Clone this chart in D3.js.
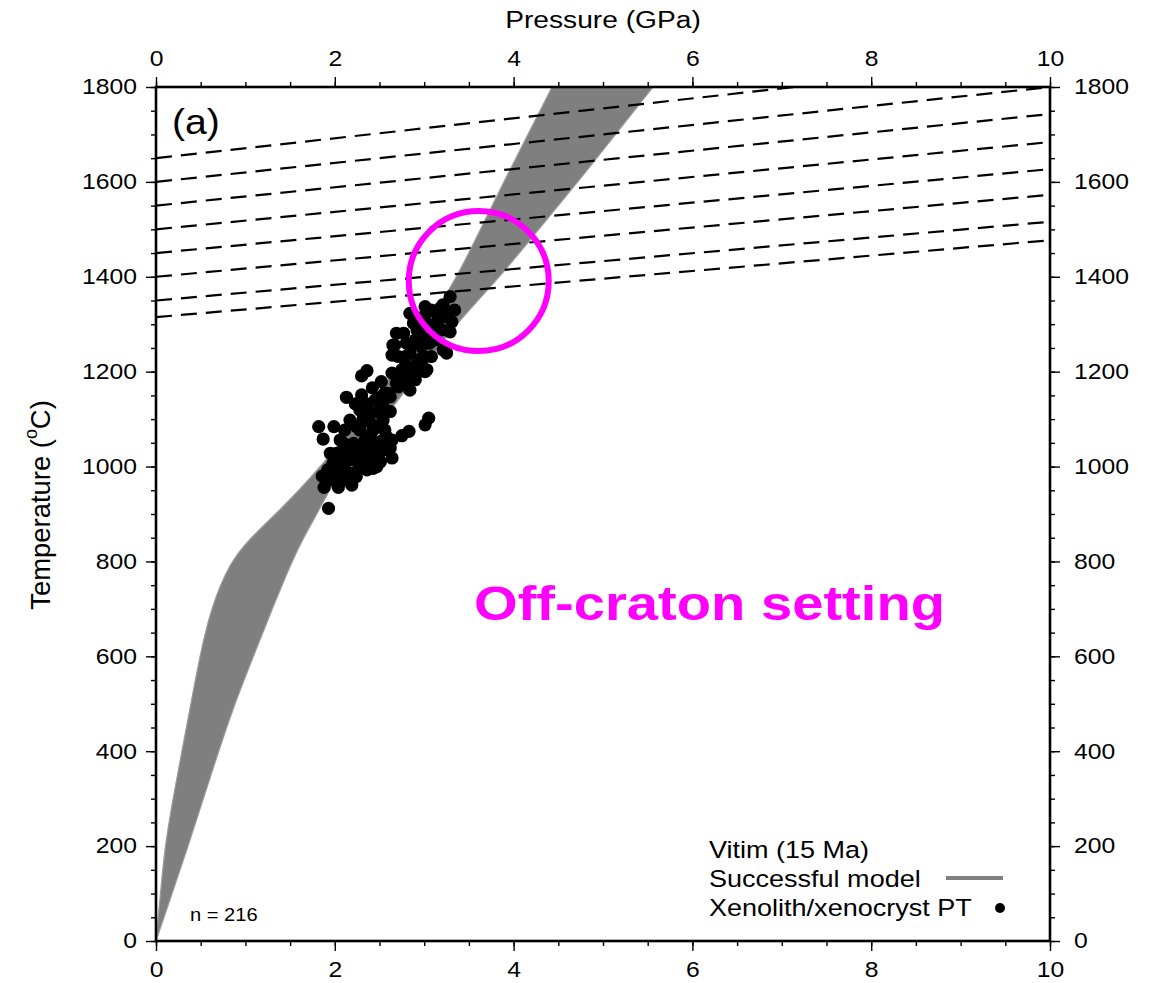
<!DOCTYPE html>
<html>
<head>
<meta charset="utf-8">
<script src="https://cdn.jsdelivr.net/npm/d3@7"></script>
<style>
  body { margin: 0; background: #fff; }
  text { font-family: "Liberation Sans", Arial, Helvetica, sans-serif; fill: #000; }
</style>
</head>
<body>
<svg id="chart" width="1152" height="983"></svg>
<script>
// axis ticks
const pressureTicks = [0, 2, 4, 6, 8, 10];
const pressureMinor = d3.range(0, 10.01, 0.5);
const tempTicks = [0, 200, 400, 600, 800, 1000, 1200, 1400, 1600, 1800];
const tempMinor = d3.range(0, 1801, 50);

// envelope of the successful model geotherms (T in C, P in GPa)
const bandT     = [0, 100, 200, 300, 400, 500, 600, 700, 800, 850, 900, 950, 1000, 1100, 1200, 1300, 1400, 1500, 1600, 1700, 1800];
const bandHotP  = [0, 0.05, 0.10, 0.19, 0.29, 0.39, 0.49, 0.61, 0.83, 1.06, 1.34, 1.60, 1.84, 2.28, 2.66, 3.04, 3.37, 3.63, 3.89, 4.16, 4.43];
const bandColdP = [0, 0.18, 0.36, 0.53, 0.70, 0.88, 1.09, 1.30, 1.52, 1.65, 1.80, 1.94, 2.10, 2.55, 2.95, 3.35, 3.85, 4.28, 4.72, 5.14, 5.56];

// dashed adiabats: temperature at P = 0 and P = 10 GPa
const adiabatT0  = [1650, 1600, 1550, 1500, 1450, 1400, 1350, 1315];
const adiabatT10 = [1860, 1800, 1743, 1684, 1627, 1573, 1516, 1477];

// xenolith / xenocryst PT estimates
const xenoP = [1.93, 1.86, 1.88, 2.04, 1.82, 1.99, 1.87, 2.13, 2.30, 2.36, 2.23, 2.36, 2.52, 2.56, 2.49, 2.62,
  2.75, 2.83, 3.01, 3.05, 2.80, 2.67, 2.84, 3.25, 3.29, 3.21, 3.14, 3.25, 3.29, 3.03, 2.92, 3.06, 2.99, 2.92,
  3.03, 2.75, 2.80, 2.69, 2.71, 2.90, 2.32, 2.28, 2.37, 2.47, 2.54, 2.58, 2.13, 2.02, 1.98, 2.21, 2.28, 2.17,
  2.10, 2.39, 2.47, 2.54, 2.62, 2.32, 2.43, 2.17, 2.24, 2.06, 1.97, 1.95, 2.10, 2.17, 2.24, 2.54, 2.62, 3.34,
  3.31, 3.21, 3.08, 3.01, 2.88, 2.77, 2.71, 2.84, 2.97, 3.08, 3.20, 3.21, 3.08, 2.97, 2.79, 3.01, 2.90, 2.64,
  2.69, 2.79, 2.60, 2.52, 2.34, 2.28, 2.34, 2.45, 2.51, 2.64, 2.11, 2.30, 2.42, 2.39, 2.48, 2.06, 2.19, 2.21,
  2.36, 2.47, 2.39, 2.60, 2.54, 2.43, 2.95, 3.14, 3.01, 2.86, 2.93, 2.84, 2.64, 3.18, 2.69, 2.65,
  2.06, 2.17, 2.30, 2.42, 2.56, 2.64, 2.10, 2.25, 2.37, 2.51, 2.00, 1.92, 2.11, 2.28, 2.42, 2.35, 2.45,
  2.79, 2.90, 3.01, 3.15, 2.95, 2.84, 3.12];
const xenoT = [912, 980, 956, 956, 1084, 1084, 1058, 1146, 1191, 1202, 1132, 1128, 1179, 1155, 1144, 1147,
  1065, 1074, 1088, 1102, 1260, 1256, 1323, 1239, 1358, 1341, 1323, 1316, 1284, 1302, 1288, 1260, 1232, 1218,
  1204, 1204, 1183, 1190, 1168, 1183, 1102, 1077, 1063, 1084, 1098, 1063, 1042, 1028, 1007, 1049, 1028, 1014,
  1000, 1035, 1042, 1049, 1039, 1000, 996, 986, 979, 986, 972, 1028, 1049, 1098, 1084, 1126, 1116, 1330,
  1305, 1327, 1330, 1337, 1302, 1281, 1232, 1239, 1253, 1274, 1288, 1246, 1232, 1218, 1211, 1200, 1193, 1197,
  1175, 1175, 1154, 1147, 1133, 1119, 1056, 1020, 1010, 1018, 1077, 1151, 1166, 1109, 1115, 1018, 961, 986,
  993, 1000, 1021, 1035, 1056, 1077, 1288, 1298, 1267, 1256, 1200, 1161, 1235, 1334, 1281, 1256,
  1056, 1035, 1046, 1056, 1077, 1056, 1003, 1010, 1018, 1031, 993, 993, 972, 1088, 1088, 1119, 1140,
  1232, 1267, 1320, 1305, 1225, 1208, 1267];

const legendLabels = ["Vitim (15 Ma)", "Successful model", "Xenolith/xenocryst PT"];
const sampleCount = "n = 216";
const highlight = { P: 3.61, T: 1391 };

const svg = d3.select("#chart");
const plotL = 156, plotR = 1050, plotT = 87, plotB = 941;
const x = d3.scaleLinear().domain([0, 10]).range([plotL, plotR]);
const y = d3.scaleLinear().domain([0, 1800]).range([plotB, plotT]);
const STRETCH = 1.15; // the original glyphs are a little wide

svg.append("clipPath").attr("id", "plotclip")
  .append("rect").attr("x", plotL).attr("y", plotT).attr("width", plotR - plotL).attr("height", plotB - plotT);

const plot = svg.append("g").attr("clip-path", "url(#plotclip)");

// model band
const band = bandT.map((t, i) => ({ T: t, hot: bandHotP[i], cold: bandColdP[i] }));
plot.append("path")
  .datum(band)
  .attr("d", d3.area()
    .y(d => y(d.T))
    .x0(d => x(d.hot))
    .x1(d => x(d.cold))
    .curve(d3.curveBasis))
  .attr("fill", "#7f7f7f")
  .attr("stroke", "#9c9c9c")
  .attr("stroke-width", 1.2);

// adiabats
plot.selectAll("line.adiabat")
  .data(adiabatT0)
  .enter().append("line")
  .attr("class", "adiabat")
  .attr("x1", x(0)).attr("y1", d => y(d))
  .attr("x2", x(10)).attr("y2", (d, i) => y(adiabatT10[i]))
  .attr("stroke", "#000")
  .attr("stroke-width", 2.2)
  .attr("stroke-dasharray", "16,9");

// xenolith points
plot.selectAll("circle.xeno")
  .data(xenoP)
  .enter().append("circle")
  .attr("class", "xeno")
  .attr("cx", d => x(d))
  .attr("cy", (d, i) => y(xenoT[i]))
  .attr("r", 6.6)
  .attr("fill", "#000");

// axes
function styleAxis(g) {
  g.select(".domain").remove();
  g.selectAll("line").attr("stroke", "#000").attr("stroke-width", 1.4);
  g.selectAll("text").attr("font-size", 21.5).attr("fill", "#000");
}
function minorAxis(axis, vals) {
  return axis.tickValues(vals).tickSize(5).tickFormat("");
}

svg.append("g").attr("transform", `translate(0,${plotB})`)
  .call(minorAxis(d3.axisBottom(x), pressureMinor)).call(styleAxis);
svg.append("g").attr("transform", `translate(0,${plotT})`)
  .call(minorAxis(d3.axisTop(x), pressureMinor)).call(styleAxis);
svg.append("g").attr("transform", `translate(${plotL},0)`)
  .call(minorAxis(d3.axisLeft(y), tempMinor)).call(styleAxis);
svg.append("g").attr("transform", `translate(${plotR},0)`)
  .call(minorAxis(d3.axisRight(y), tempMinor)).call(styleAxis);

const bAx = svg.append("g").attr("transform", `translate(0,${plotB})`)
  .call(d3.axisBottom(x).tickValues(pressureTicks).tickSize(10).tickPadding(11).tickFormat(d3.format("d")))
  .call(styleAxis);
bAx.selectAll("text").attr("transform", `scale(${STRETCH},1)`);

const tAx = svg.append("g").attr("transform", `translate(0,${plotT})`)
  .call(d3.axisTop(x).tickValues(pressureTicks).tickSize(10).tickPadding(11).tickFormat(d3.format("d")))
  .call(styleAxis);
tAx.selectAll("text").attr("transform", `scale(${STRETCH},1)`);

const lAx = svg.append("g").attr("transform", `translate(${plotL},0)`)
  .call(d3.axisLeft(y).tickValues(tempTicks).tickSize(10).tickFormat(d3.format("d")))
  .call(styleAxis);
lAx.selectAll("text").attr("x", 0)
  .attr("transform", `translate(-19,0) scale(${STRETCH},1)`);

const rAx = svg.append("g").attr("transform", `translate(${plotR},0)`)
  .call(d3.axisRight(y).tickValues(tempTicks).tickSize(10).tickFormat(d3.format("d")))
  .call(styleAxis);
rAx.selectAll("text").attr("x", 0)
  .attr("transform", `translate(24,0) scale(${STRETCH},1)`);

// frame
svg.append("rect")
  .attr("x", plotL).attr("y", plotT)
  .attr("width", plotR - plotL).attr("height", plotB - plotT)
  .attr("fill", "none").attr("stroke", "#000").attr("stroke-width", 2.6);

// titles
svg.append("text")
  .attr("transform", `translate(${(plotL + plotR) / 2},28) scale(${STRETCH},1)`)
  .attr("text-anchor", "middle")
  .attr("font-size", 24.5)
  .text("Pressure (GPa)");

const yt = svg.append("text")
  .attr("transform", `translate(50,505) rotate(-90) scale(1.12,${STRETCH})`)
  .attr("text-anchor", "middle")
  .attr("font-size", 24.5);
yt.append("tspan").text("Temperature (");
yt.append("tspan").attr("font-size", 16).attr("dy", -11).text("o");
yt.append("tspan").attr("dy", 11).text("C)");

svg.append("text")
  .attr("transform", `translate(172,134) scale(1.12,1)`)
  .attr("font-size", 35)
  .text("(a)");

svg.append("text")
  .attr("transform", `translate(190,921) scale(${STRETCH},1)`)
  .attr("font-size", 17.5)
  .text(sampleCount);

// legend
const legend = svg.append("g");
legendLabels.forEach((lab, i) => {
  legend.append("text")
    .attr("transform", `translate(709,${858 + i * 29}) scale(${STRETCH},1)`)
    .attr("font-size", 23.5)
    .text(lab);
});
legend.append("line")
  .attr("x1", 946).attr("x2", 1003).attr("y1", 878).attr("y2", 878)
  .attr("stroke", "#808080").attr("stroke-width", 4);
legend.append("circle")
  .attr("cx", 1000).attr("cy", 908).attr("r", 5).attr("fill", "#000");

// annotation
svg.append("circle")
  .attr("cx", x(highlight.P)).attr("cy", y(highlight.T))
  .attr("r", 70)
  .attr("fill", "none")
  .attr("stroke", "#ff00ff")
  .attr("stroke-width", 6);

svg.append("text")
  .attr("x", 474).attr("y", 620)
  .attr("font-family", "'Open Sans', 'Noto Sans', sans-serif")
  .attr("font-weight", "bold")
  .attr("font-size", 49)
  .attr("textLength", 471)
  .attr("lengthAdjust", "spacingAndGlyphs")
  .style("fill", "#ff00ff")
  .text("Off-craton setting");
</script>
</body>
</html>
